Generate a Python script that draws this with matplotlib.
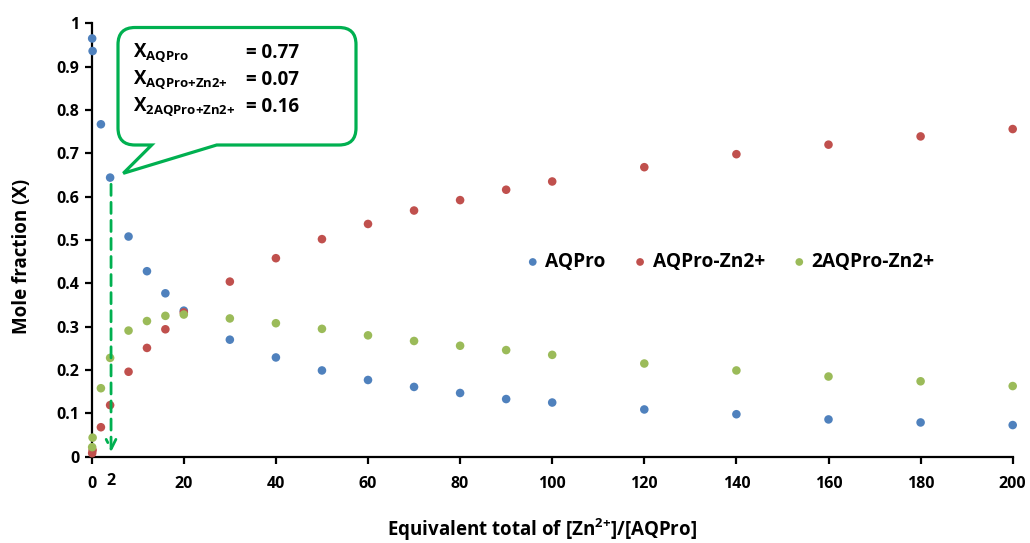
import matplotlib
matplotlib.use("Agg")
import matplotlib.pyplot as plt
from matplotlib.path import Path
from matplotlib.patches import PathPatch

# Speciation data: equivalents of Zn2+ added vs. mole fraction of each species
equivalents = [0.1, 0.2, 2, 4, 8, 12, 16, 20, 30, 40, 50, 60, 70, 80, 90, 100,
               120, 140, 160, 180, 200]
x_aqpro = [0.965, 0.936, 0.767, 0.644, 0.508, 0.428, 0.377, 0.337, 0.270, 0.229,
           0.199, 0.177, 0.161, 0.147, 0.133, 0.125, 0.109, 0.098, 0.086, 0.079, 0.073]
x_aqpro_zn = [0.008, 0.015, 0.068, 0.119, 0.196, 0.251, 0.294, 0.333, 0.404, 0.458,
              0.502, 0.537, 0.568, 0.592, 0.616, 0.635, 0.668, 0.698, 0.720, 0.739, 0.756]
x_2aqpro_zn = [0.022, 0.044, 0.158, 0.228, 0.291, 0.313, 0.325, 0.328, 0.319, 0.308,
               0.295, 0.280, 0.267, 0.256, 0.246, 0.235, 0.215, 0.199, 0.185, 0.174, 0.163]

series_names = ["AQPro", "AQPro-Zn2+", "2AQPro-Zn2+"]
series_colors = ["#4F81BD", "#C0504D", "#9BBB59"]

x_ticks = [0, 20, 40, 60, 80, 100, 120, 140, 160, 180, 200]
y_ticks = [0, 0.1, 0.2, 0.3, 0.4, 0.5, 0.6, 0.7, 0.8, 0.9, 1]
y_tick_labels = ["0", "0.1", "0.2", "0.3", "0.4", "0.5", "0.6", "0.7", "0.8", "0.9", "1"]

# Callout contents (fractions at 2 equivalents)
callout_labels = [r"X$_{\mathbf{AQPro}}$", r"X$_{\mathbf{AQPro{+}Zn2{+}}}$",
                  r"X$_{\mathbf{2AQPro{+}Zn2{+}}}$"]
callout_values = ["= 0.77", "= 0.07", "= 0.16"]
marked_equiv = 4.2
marked_label = "2"

FONT = "Open Sans"
plt.rcParams["font.family"] = [FONT, "DejaVu Sans"]
plt.rcParams["font.weight"] = "bold"
plt.rcParams["mathtext.fontset"] = "custom"
plt.rcParams["mathtext.rm"] = FONT + ":bold"
plt.rcParams["mathtext.bf"] = FONT + ":bold"
plt.rcParams["mathtext.it"] = FONT + ":bold"

W, H = 1030, 543
fig = plt.figure(figsize=(W / 100, H / 100), dpi=100)
ax = fig.add_axes([91.7 / W, 1 - 456.7 / H, 921.0 / W, 433.4 / H])

green = "#00B050"

for vals, name, col in zip([x_aqpro, x_aqpro_zn, x_2aqpro_zn], series_names, series_colors):
    ax.scatter(equivalents, vals, s=38, color=col, edgecolors="none",
               label=name, clip_on=False, zorder=3)

ax.set_xlim(0, 200)
ax.set_ylim(0, 1)
ax.set_xticks(x_ticks)
ax.set_yticks(y_ticks)
ax.set_yticklabels(y_tick_labels)
for s in ["top", "right"]:
    ax.spines[s].set_visible(False)
for s in ["left", "bottom"]:
    ax.spines[s].set_linewidth(1.6)
    ax.spines[s].set_color("black")
ax.tick_params(axis="both", direction="out", length=5, width=1.6,
               labelsize=11.5, colors="black")
ax.tick_params(axis="x", pad=9)
ax.tick_params(axis="y", pad=4)
for lab in ax.get_xticklabels() + ax.get_yticklabels():
    lab.set_fontweight("bold")

# extra "2" label under the marked point
ax.annotate(marked_label, xy=(marked_equiv, 0), xycoords=("data", "axes fraction"),
            xytext=(0, -24), textcoords="offset pixels", ha="center", va="center",
            fontsize=11.5, fontweight="bold")

# dashed arrow down to the axis
ax.annotate("", xy=(marked_equiv, 0.004), xytext=(marked_equiv, 0.635),
            arrowprops=dict(arrowstyle="->,head_length=0.7,head_width=0.35",
                            color=green, lw=2, linestyle=(0, (4, 2.5))),
            zorder=4)

fig.text(22 / W, 1 - 256 / H, "Mole fraction (X)", rotation=90, ha="center",
         va="center", fontsize=13.5, fontweight="bold")
fig.text(542 / W, 1 - 530 / H, r"Equivalent total of [Zn$^{\mathbf{2{+}}}$]/[AQPro]",
         ha="center", va="center", fontsize=13.5, fontweight="bold")

leg = ax.legend(loc="center left", bbox_to_anchor=((527 - 91.7) / 921, (456.7 - 262) / 433.4),
                ncol=3, frameon=False, fontsize=13.8, handlelength=0.6,
                handletextpad=0.35, columnspacing=1.5, borderpad=0,
                borderaxespad=0, markerscale=0.9)
for t in leg.get_texts():
    t.set_fontweight("bold")

# speech-bubble callout, built in pixel space then mapped to figure fraction
L, R, T, B, r = 118.0, 356.0, 27.5, 145.0, 17.0
tip = (123.3, 173.3)
tail_left, tail_right = 151.7, 216.7


def fp(px, py):
    return (px / W, 1 - py / H)


verts = [fp(L + r, T), fp(R - r, T), fp(R, T), fp(R, T + r), fp(R, B - r),
         fp(R, B), fp(R - r, B), fp(tail_right, B), fp(*tip), fp(tail_left, B),
         fp(L + r, B), fp(L, B), fp(L, B - r), fp(L, T + r), fp(L, T), fp(L + r, T),
         fp(L + r, T)]
codes = [Path.MOVETO, Path.LINETO, Path.CURVE3, Path.CURVE3, Path.LINETO,
         Path.CURVE3, Path.CURVE3, Path.LINETO, Path.LINETO, Path.LINETO,
         Path.LINETO, Path.CURVE3, Path.CURVE3, Path.LINETO, Path.CURVE3, Path.CURVE3,
         Path.CLOSEPOLY]
bubble = PathPatch(Path(verts, codes), transform=fig.transFigure, facecolor="white",
                   edgecolor=green, linewidth=2.3, zorder=5, joinstyle="miter")
fig.patches.append(bubble)

for i, (lab, val) in enumerate(zip(callout_labels, callout_values)):
    y = [53, 80, 107][i]
    fig.text(133 / W, 1 - y / H, lab, ha="left", va="center", fontsize=13.5,
             fontweight="bold", zorder=6)
    fig.text(246 / W, 1 - y / H, val, ha="left", va="center", fontsize=13.5,
             fontweight="bold", zorder=6)

fig.savefig("out.png", dpi=100)
